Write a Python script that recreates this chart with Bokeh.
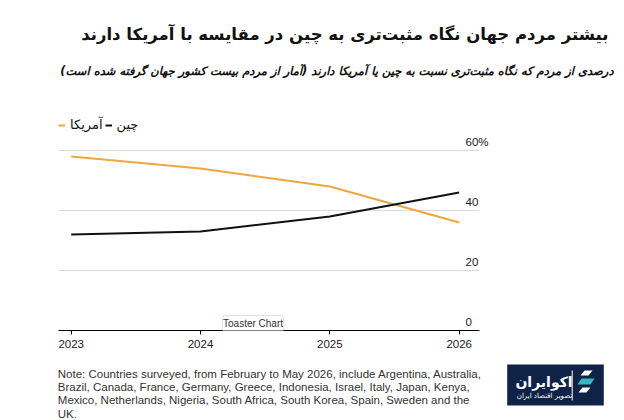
from bokeh.plotting import figure
from bokeh.layouts import column, row
from bokeh.models import (Range1d, LinearAxis, FixedTicker, Grid, Label, Legend, LegendItem,
                          BoxAnnotation, PolyAnnotation)
from bokeh.embed import file_html
from bokeh.resources import INLINE

# ---------------- data ----------------
years = [2023, 2024, 2025, 2026]
china = [32, 33, 38, 46]
america = [58, 54, 48, 36]
series_names = ["چین", "آمریکا"]
x_tick_labels = ["2023", "2024", "2025", "2026"]
y_ticks = [0, 20, 40, 60]
y_tick_labels = ["0", "20", "40", "60%"]
title_text = "بیشتر مردم جهان نگاه مثبت‌تری به چین در مقایسه با آمریکا دارند"
subtitle_text = "درصدی از مردم که نگاه مثبت‌تری نسبت به چین یا آمریکا دارند (آمار از مردم بیست کشور جهان گرفته شده است)\u200f"
note_lines = [
    "Note: Countries surveyed, from February to May 2026, include Argentina, Australia,",
    "Brazil, Canada, France, Germany, Greece, Indonesia, Israel, Italy, Japan, Kenya,",
    "Mexico, Netherlands, Nigeria, South Africa, South Korea, Spain, Sweden and the",
    "UK.",
]
logo_name = "اکوایران"
logo_tagline = "تصویر اقتصاد ایران"
badge_text = "Toaster Chart"

FA = "DejaVu Sans"
EN = "Liberation Sans"
ORANGE = "#F0A63E"
BLACK = "#111111"
W = 624


def blank(height, top):
    """A figure whose frame is the whole canvas, in page pixel coordinates."""
    f = figure(width=W, height=height, output_backend="svg", toolbar_location=None,
               x_range=Range1d(0, W), y_range=Range1d(top + height, top),
               x_axis_location=None, y_axis_location=None,
               min_border=0, outline_line_color=None,
               background_fill_color="white", border_fill_color="white")
    f.center = [c for c in f.center if not isinstance(c, Grid)]
    return f


# ---------------- header ----------------
head = blank(108, 0)
head.add_layout(Label(x=608, y=34, text=title_text, text_align="right", text_baseline="middle",
                      text_font=FA, text_font_style="bold", text_font_size="16.5px",
                      text_color="#111111"))
head.add_layout(Label(x=613, y=70, text=subtitle_text, text_align="right", text_baseline="middle",
                      text_font=FA, text_font_style="bold italic", text_font_size="11.5px",
                      text_color="#111111"))

# ---------------- main chart ----------------
p = figure(width=W, height=244, output_backend="svg", toolbar_location=None,
           x_range=Range1d(2022.902, 2026.157), y_range=Range1d(0, 74),
           y_axis_location=None,
           min_border_left=58, min_border_right=145, min_border_top=0, min_border_bottom=22,
           outline_line_color=None, background_fill_color="white", border_fill_color="white")
p.center = [c for c in p.center if not isinstance(c, Grid)]
p.add_layout(Grid(dimension=1, ticker=FixedTicker(ticks=y_ticks[1:]),
                  grid_line_color="#dadada", grid_line_width=1))

xa = p.xaxis[0]
xa.ticker = FixedTicker(ticks=years)
xa.major_label_overrides = {y: s for y, s in zip(years, x_tick_labels)}
xa.axis_line_color = "black"
xa.axis_line_width = 1
xa.major_tick_line_color = "black"
xa.major_tick_out = 4
xa.major_tick_in = 0
xa.minor_tick_line_color = None
xa.major_label_standoff = 5
xa.major_label_text_font = EN
xa.major_label_text_font_size = "11.5px"
xa.major_label_text_color = "#1a1a1a"

# right-hand labels sitting above their gridlines (shifted range)
p.extra_y_ranges = {"lab": Range1d(-3, 71)}
ya = LinearAxis(y_range_name="lab", ticker=FixedTicker(ticks=y_ticks),
                major_label_overrides={v: s for v, s in zip(y_ticks, y_tick_labels)},
                axis_line_color=None, major_tick_line_color=None, minor_tick_line_color=None,
                major_tick_out=0, major_tick_in=0, major_label_standoff=-14,
                major_label_text_font=EN, major_label_text_font_size="11.5px",
                major_label_text_color="#1a1a1a")
p.add_layout(ya, "right")

r_us = p.line(years, america, line_color=ORANGE, line_width=2)
r_cn = p.line(years, china, line_color=BLACK, line_width=2)

legend = Legend(items=[LegendItem(label=series_names[1], renderers=[r_us]),
                       LegendItem(label=series_names[0], renderers=[r_cn])],
                orientation="horizontal", location=(0, 198),
                glyph_width=7, glyph_height=14, label_standoff=5, spacing=2,
                padding=0, margin=0, border_line_color=None, background_fill_alpha=0,
                label_text_font=FA, label_text_font_size="13px", label_height=14,
                label_text_color="#111111")
p.add_layout(legend)

# screenshot badge
p.add_layout(BoxAnnotation(left=2024.170, right=2024.642, top=5.0, bottom=-0.7,
                           fill_color="white", fill_alpha=1, line_color="#9a9a9a",
                           line_width=1, border_radius=3))
p.add_layout(Label(x=2024.406, y=2.4, text=badge_text, text_align="center",
                   text_baseline="middle", text_font=EN, text_font_size="10px",
                   text_color="#333333"))

# ---------------- footer ----------------
foot = blank(68, 352)
for i, line in enumerate(note_lines):
    foot.add_layout(Label(x=57.3, y=373.3 + 13.3 * i, text=line, text_align="left",
                          text_baseline="middle", text_font=EN, text_font_size="11.5px",
                          text_color="#333333"))
foot.add_layout(BoxAnnotation(left=506.7, right=603.3, top=364, bottom=405,
                              fill_color="#0f2247", fill_alpha=1, line_color=None))
foot.add_layout(BoxAnnotation(left=571.2, right=572.2, top=370, bottom=400,
                              fill_color="white", fill_alpha=1, line_color=None))
for xs, ys, c in [([580, 588, 592, 584], [375, 375, 370, 370], "white"),
                  ([577, 590, 594, 581], [384, 384, 378, 378], "#35b6c4"),
                  ([578, 586, 590, 582], [392, 392, 387, 387], "white")]:
    foot.add_layout(PolyAnnotation(xs=xs, ys=ys, fill_color=c, fill_alpha=1, line_color=None))
foot.add_layout(Label(x=543.5, y=381.7, text=logo_name, text_align="center",
                      text_baseline="middle", text_font=FA, text_font_style="bold",
                      text_font_size="14px", text_color="white"))
foot.add_layout(Label(x=544, y=395, text=logo_tagline, text_align="center",
                      text_baseline="middle", text_font=FA, text_font_size="7px",
                      text_color="white"))

layout = column(row(head), p, row(foot), spacing=0)
open("out.html", "w").write(file_html(layout, INLINE))
